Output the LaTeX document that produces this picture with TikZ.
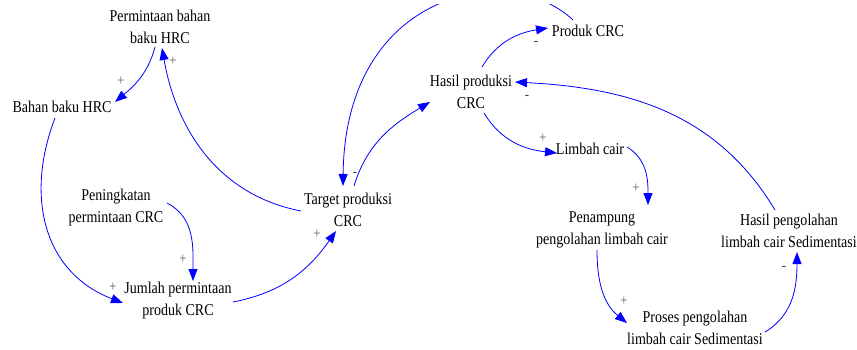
\documentclass[tikz,border=0pt]{standalone}
\usepackage{fontspec}
\setmainfont[FakeStretch=0.85]{Liberation Serif}
\usetikzlibrary{arrows.meta}
\definecolor{linkblue}{RGB}{0,0,255}
\definecolor{plusgray}{RGB}{95,95,95}
\definecolor{minusgray}{RGB}{60,60,60}

\begin{document}
\begin{tikzpicture}[x=1pt,y=-1pt,
  var/.style={align=center, inner sep=0pt, font=\fontsize{16.5}{22}\selectfont, text=black},
  link/.style={draw=linkblue, line width=0.8pt, -{Triangle[length=12pt,width=9pt]}},
  pos sign/.style={inner sep=0pt, font=\fontsize{15}{15}\selectfont, text=plusgray},
  neg sign/.style={inner sep=0pt, font=\fontsize{15}{15}\selectfont, text=minusgray}]
\useasboundingbox (0,0) rectangle (857,349);

% variables
\node[var] (pbb)  at (160,27)  {Permintaan bahan\\baku HRC};
\node[var] (bbh)  at (62,107)  {Bahan baku HRC};
\node[var] (pen)  at (116,208) {Peningkatan\\permintaan CRC};
\node[var] (jpp)  at (178,301) {Jumlah permintaan\\produk CRC};
\node[var] (tpc)  at (348,210) {Target produksi\\CRC};
\node[var] (hpc)  at (471,92)  {Hasil produksi\\CRC};
\node[var] (pcrc) at (588,31)  {Produk CRC};
\node[var] (lc)   at (590,149) {Limbah cair};
\node[var] (pplc) at (602,230) {Penampung\\pengolahan limbah cair};
\node[var] (hpl)  at (789,231) {Hasil pengolahan\\limbah cair Sedimentasi};
\node[var] (ppl)  at (695,328) {Proses pengolahan\\limbah cair Sedimentasi};

% causal links
\draw[link] ([shift={(-5,20)}]pbb.center) to[out=-105,in=40] ([shift={(53,-5)}]bbh.center);
\draw[link] ([shift={(-47,1)}]tpc.center) to[out=169,in=-80] ([shift={(2,21)}]pbb.center);
\draw[link] ([shift={(-7,11)}]bbh.center) to[out=249,in=159,looseness=1.1] ([shift={(-55,2)}]jpp.center);
\draw[link] ([shift={(51,-5)}]pen.center) to[out=-27,in=90] ([shift={(15,-20)}]jpp.center);
\draw[link] ([shift={(55,1)}]jpp.center) to[out=11,in=235] ([shift={(-12,21)}]tpc.center);
\draw[link] ([shift={(6,-24)}]tpc.center) to[out=73,in=211] ([shift={(-41,10)}]hpc.center);
\draw[link] ([shift={(-15,-11)}]pcrc.center) .. controls (510,-40) and (345,-10) .. ([shift={(-5,-24)}]tpc.center);
\draw[link] ([shift={(11,-25)}]hpc.center) to[out=59,in=189] ([shift={(-40,-3)}]pcrc.center);
\draw[link] ([shift={(13,21)}]hpc.center) to[out=-59,in=174] ([shift={(-33,4)}]lc.center);
\draw[link] ([shift={(37,-2)}]lc.center) to[out=-31,in=90] ([shift={(46,-25)}]pplc.center);
\draw[link] ([shift={(-5,20)}]pplc.center) to[out=-90,in=141] ([shift={(-68,-5)}]ppl.center);
\draw[link] ([shift={(70,4)}]ppl.center) to[out=31,in=-90] ([shift={(8,21)}]hpl.center);
\draw[link] ([shift={(-14,-21)}]hpl.center) to[out=121,in=-3] ([shift={(44,-10)}]hpc.center);

% link polarities
\node[pos sign] (s1)  at (121,81)  {+};
\node[pos sign] (s2)  at (173,61)  {+};
\node[pos sign] (s3)  at (113,287) {+};
\node[pos sign] (s4)  at (183,259) {+};
\node[pos sign] (s5)  at (317,234) {+};
\node[neg sign] (s6)  at (355,174) {-};
\node[neg sign] (s7)  at (536,43)  {-};
\node[pos sign] (s8)  at (543,138) {+};
\node[pos sign] (s9)  at (636,188) {+};
\node[pos sign] (s10) at (624,301) {+};
\node[neg sign] (s11) at (784,268) {-};
\node[neg sign] (s12) at (527,97)  {-};

% top margin band
\fill[white] (0,0) rectangle (857,4);
\end{tikzpicture}
\end{document}
